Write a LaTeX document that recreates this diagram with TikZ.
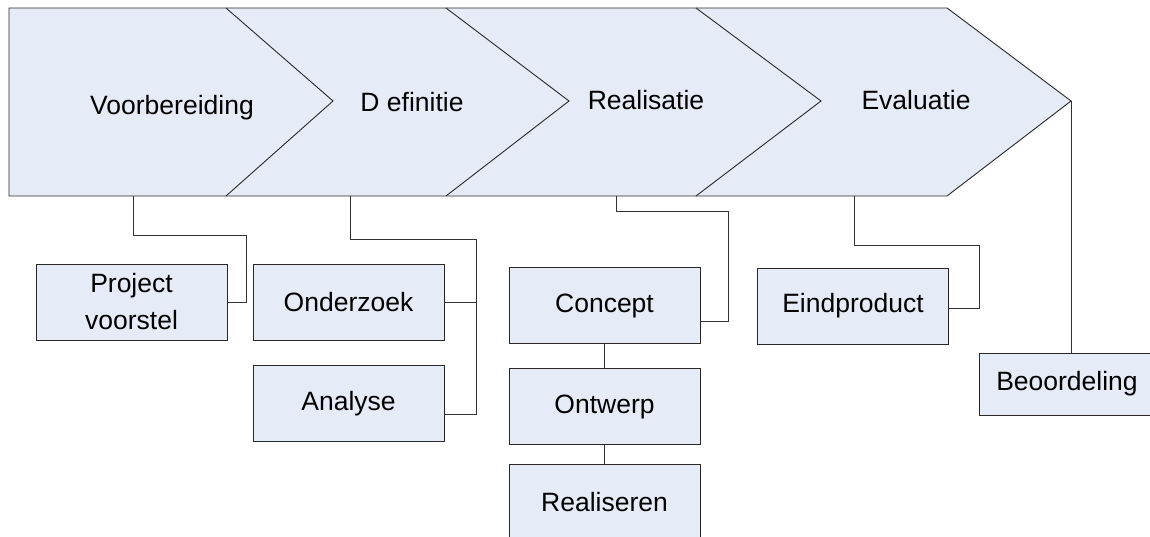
\documentclass[tikz,border=0pt]{standalone}
\usepackage{fontspec}
\setmainfont{Liberation Sans}
\usetikzlibrary{calc}
\definecolor{boxfill}{RGB}{230,236,247}
\definecolor{edge}{RGB}{40,40,40}
\definecolor{wire}{RGB}{50,50,50}
\tikzset{
  phase/.style={inner sep=0pt, anchor=base, font=\fontsize{26.5}{30}\selectfont},
  box/.style={draw=edge, fill=boxfill, line width=1pt, inner sep=0pt,
    minimum width=191pt, minimum height=76pt, align=center,
    font=\fontsize{26.5}{37}\selectfont},
  conn/.style={draw=wire, line width=1pt},
  band/.style={draw=edge, fill=boxfill, line width=0.9pt, line join=miter},
  sep/.style={draw=edge, line width=0.9pt}
}
\begin{document}
\begin{tikzpicture}[x=1pt,y=-1pt]
\clip (0,0) rectangle (1150,537);
\fill[white] (0,0) rectangle (1150,537);
% chevron band
\path[band] (9,8) -- (947,8) -- (1071,101) -- (947,196) -- (9,196) -- cycle;
\draw[sep] (226,8) -- (333,101) -- (226,196);
\draw[sep] (446,8) -- (569,101) -- (446,196);
\draw[sep] (696,8) -- (821,101) -- (696,196);
% phase labels
\node[phase] (v1) at (172,115) {Voorbereiding};
\node[phase] (v2) at (412,112) {D efinitie};
\node[phase] (v3) at (646,110) {Realisatie};
\node[phase] (v4) at (916,110) {Evaluatie};
% attachment points on the band
\coordinate (a1) at (133,196);
\coordinate (a2) at (350,196);
\coordinate (a3) at (616,196);
\coordinate (a4) at (854,196);
\coordinate (a5) at (1071,101);
% boxes
\node[box] (pv) at (131.5,302) {Project\\voorstel};
\node[box] (oz) at (348.5,302) {Onderzoek};
\node[box] (an) at (348.5,403.5) {Analyse};
\node[box] (co) at (604.5,305.5) {Concept};
\node[box] (ow) at (604.5,406.5) {Ontwerp};
\node[box] (re) at (604.5,502.5) {Realiseren};
\node[box] (ep) at (853,306) {Eindproduct};
\node[box, minimum width=176pt, minimum height=62pt] (bo) at (1067,384) {Beoordeling};
% connectors
\draw[conn] (a1) -- ++(0,40) -| ($(pv.east)+(19,0)$) -- (pv.east);
\draw[conn] (a2) -- ++(0,44) -| ($(an.east)+(32,11)$) -- ($(an.east)+(0,11)$);
\draw[conn] (oz.east) -- ++(32,0);
\draw[conn] (a3) -- ++(0,16) -| ($(co.east)+(28,15.5)$) -- ($(co.east)+(0,15.5)$);
\draw[conn] (co.south) -- (ow.north);
\draw[conn] (ow.south) -- (re.north);
\draw[conn] (a4) -- ++(0,50) -| ($(ep.east)+(30,2)$) -- ($(ep.east)+(0,2)$);
\draw[conn] (a5) -- (a5 |- bo.north);
\end{tikzpicture}
\end{document}
